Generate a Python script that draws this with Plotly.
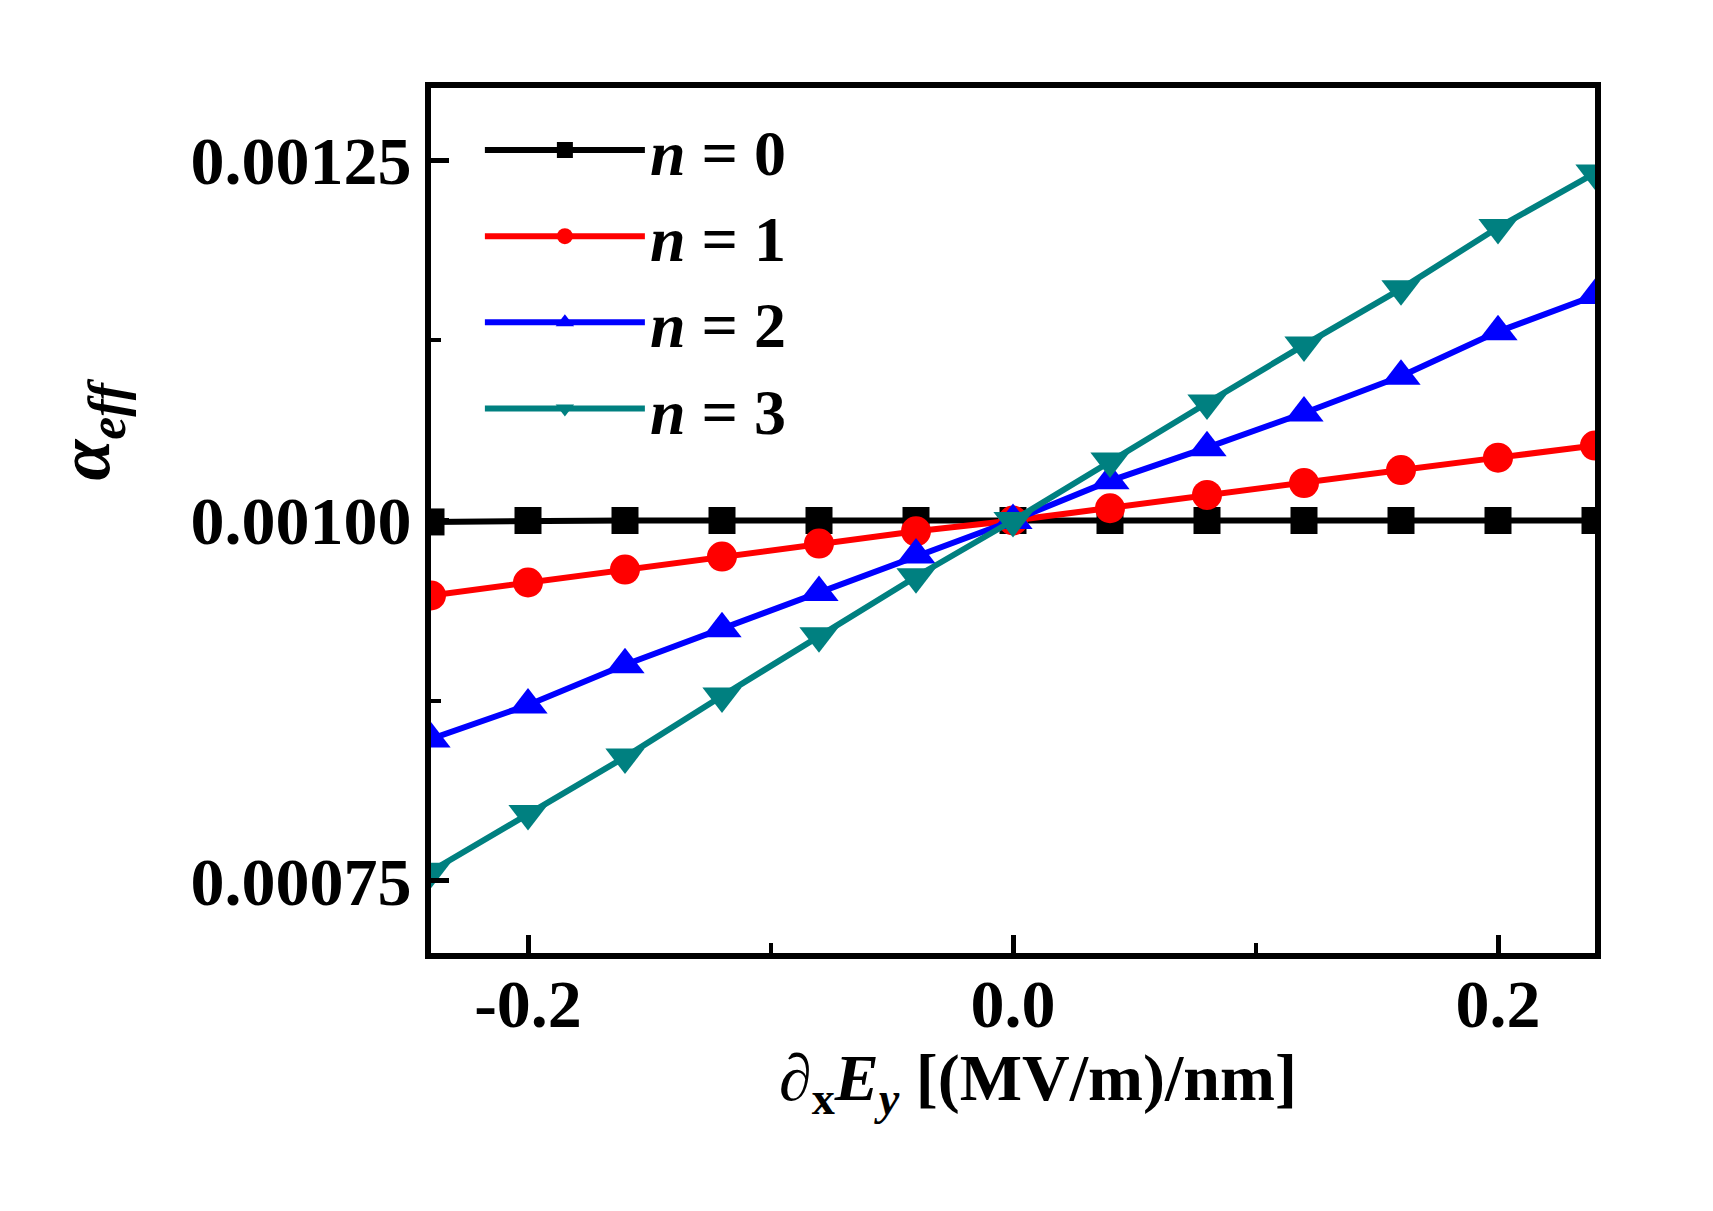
import plotly.graph_objects as go

# ---- data ----
field_gradient = [-0.24, -0.20, -0.16, -0.12, -0.08, -0.04, 0.0, 0.04, 0.08, 0.12, 0.16, 0.20, 0.24]
alpha_n0 = [0.000999, 0.001, 0.001, 0.001, 0.001, 0.001, 0.001, 0.001, 0.001, 0.001, 0.001, 0.001, 0.001]
alpha_n1 = [0.000948, 0.000957, 0.000966, 0.000975, 0.000984, 0.0009925, 0.001, 0.0010085, 0.0010177,
            0.001026, 0.001035, 0.0010436, 0.001052]
alpha_n2 = [0.0008485, 0.000872, 0.0009, 0.000925, 0.00095, 0.000976, 0.001, 0.0010275, 0.0010505,
            0.0010746, 0.0011, 0.001131, 0.001156]
alpha_n3 = [0.0007567, 0.0007968, 0.0008359, 0.0008783, 0.00092, 0.000961, 0.001, 0.0010413, 0.0010815,
            0.0011217, 0.0011607, 0.0012032, 0.001241]

series_names = ["<i>n</i> = 0", "<i>n</i> = 1", "<i>n</i> = 2", "<i>n</i> = 3"]
x_tick_values = [-0.2, 0.0, 0.2]
x_tick_labels = ["-0.2", "0.0", "0.2"]
y_tick_values = [0.00075, 0.00100, 0.00125]
y_tick_labels = ["0.00075", "0.00100", "0.00125"]

FONT = "Liberation Serif, Times New Roman, serif"

styles = [
    dict(color="#000000", symbol="square", size=27),
    dict(color="#FF0000", symbol="circle", size=30),
    dict(color="#0000FF", symbol="triangle-up", size=34),
    dict(color="#008080", symbol="triangle-down", size=34),
]

fig = go.Figure()
for name, ys, st in zip(series_names, [alpha_n0, alpha_n1, alpha_n2, alpha_n3], styles):
    fig.add_trace(go.Scatter(
        x=field_gradient, y=ys, name=name, mode="lines+markers",
        line=dict(color=st["color"], width=6),
        marker=dict(color=st["color"], symbol=st["symbol"], size=st["size"], line=dict(width=0)),
    ))

axis_common = dict(
    showline=True, linecolor="black", linewidth=6, mirror=True,
    ticks="inside", ticklen=18, tickwidth=5, tickcolor="black",
    showgrid=False, zeroline=False,
    tickfont=dict(family=FONT, size=68, color="black", weight="bold"),
)

fig.update_xaxes(
    range=[-0.24, 0.24], tickmode="array", tickvals=x_tick_values, ticktext=x_tick_labels,
    minor=dict(tickvals=[-0.1, 0.1], ticks="inside", ticklen=10, tickwidth=4, tickcolor="black", showgrid=False),
    ticklabelstandoff=-14,
    **axis_common,
)
fig.update_yaxes(
    range=[0.0007, 0.0013], tickmode="array", tickvals=y_tick_values, ticktext=y_tick_labels,
    minor=dict(tickvals=[0.000875, 0.001125], ticks="inside", ticklen=10, tickwidth=4, tickcolor="black", showgrid=False),
    **axis_common,
)

fig.update_layout(
    width=1713, height=1211,
    margin=dict(l=431, r=118, t=88, b=258),
    paper_bgcolor="white", plot_bgcolor="white",
    showlegend=True,
    legend=dict(
        x=0.042, y=0.984, xanchor="left", yanchor="top",
        bgcolor="rgba(0,0,0,0)", borderwidth=0,
        font=dict(family=FONT, size=64, color="black", weight="bold"),
        itemwidth=160, itemsizing="trace", tracegroupgap=0,
    ),
    annotations=[
        dict(text="∂<sub>x</sub><i>E</i><sub><i>y</i></sub> [(MV/m)/nm]",
             xref="paper", yref="paper", x=0.5214, y=-0.15, xanchor="center", yanchor="middle",
             showarrow=False, font=dict(family=FONT, size=66, color="black", weight="bold")),
        dict(text="<i>α</i><sub><i>eff</i></sub>",
             xref="paper", yref="paper", x=-0.293, y=0.605, xanchor="center", yanchor="middle",
             textangle=-90, showarrow=False,
             font=dict(family=FONT, size=74, color="black", weight="bold")),
    ],
)

fig.write_html("out.html")
